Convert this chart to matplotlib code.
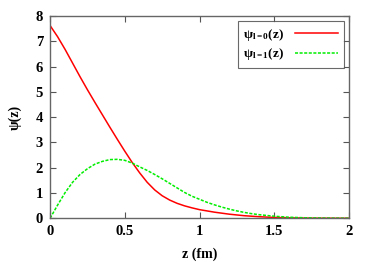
import numpy as np
import matplotlib
matplotlib.use('Agg')
import matplotlib.pyplot as plt

plt.rcParams['font.family'] = ['Liberation Serif', 'DejaVu Serif']
plt.rcParams['font.weight'] = 'bold'
plt.rcParams['mathtext.fontset'] = 'custom'
plt.rcParams['mathtext.rm'] = 'Liberation Serif'
plt.rcParams['mathtext.bf'] = 'Liberation Serif:bold'
plt.rcParams['mathtext.it'] = 'Liberation Serif:italic'

# values
z = [0.00, 0.05, 0.10, 0.15, 0.20, 0.25, 0.30, 0.35, 0.40, 0.45,
     0.50, 0.55, 0.60, 0.65, 0.70, 0.75, 0.80, 0.85, 0.90, 0.95,
     1.00, 1.05, 1.10, 1.15, 1.20, 1.25, 1.30, 1.35, 1.40, 1.45,
     1.50, 1.55, 1.60, 1.65, 1.70, 1.75, 1.80, 1.85, 1.90, 1.95, 2.00]
psi_l0 = [7.62, 7.18, 6.68, 6.14, 5.60, 5.08, 4.58, 4.09, 3.60, 3.12,
          2.65, 2.20, 1.79, 1.42, 1.12, 0.89, 0.72, 0.59, 0.49, 0.41,
          0.34, 0.29, 0.24, 0.20, 0.16, 0.13, 0.10, 0.08, 0.06, 0.045,
          0.033, 0.024, 0.017, 0.012, 0.008, 0.005, 0.003, 0.002, 0.001, 0.0, 0.0]
psi_l1 = [0.00, 0.52, 1.01, 1.42, 1.73, 1.96, 2.14, 2.25, 2.32, 2.33,
          2.29, 2.18, 2.03, 1.89, 1.73, 1.56, 1.38, 1.20, 1.02, 0.87,
          0.75, 0.63, 0.53, 0.44, 0.36, 0.29, 0.23, 0.18, 0.14, 0.11,
          0.08, 0.06, 0.04, 0.03, 0.02, 0.015, 0.01, 0.006, 0.004, 0.002, 0.001]

fig = plt.figure(figsize=(3.74, 2.62), dpi=100)
ax = fig.add_axes([0.134, 0.167, 0.799, 0.772])

ax.plot(z, psi_l0, color='#ff0000', lw=1.1, label=r'$\mathrm{\psi}_{\mathbf{l=0}}$(z)')
ax.plot(z, psi_l1, color='#00ee00', lw=1.1, dashes=(2, 1),
        label=r'$\mathrm{\psi}_{\mathbf{l=1}}$(z)')

ax.set_xlim(0, 2)
ax.set_ylim(0, 8)
ax.set_xticks([0, 0.5, 1, 1.5, 2])
ax.set_xticklabels(['0', '0.5', '1', '1.5', '2'], fontweight='bold')
ax.set_yticks(range(0, 9))
ax.set_yticklabels([str(v) for v in range(0, 9)], fontweight='bold')
ax.tick_params(direction='in', length=4, width=0.8, top=True, right=True,
               labelsize=10.5, color='#555555', pad=5)
for s in ax.spines.values():
    s.set_color('#666666')
    s.set_linewidth(1.0)

ax.set_xlabel('z (fm)', fontsize=10, fontweight='bold', labelpad=7)
ax.set_ylabel('ψ(z)', fontsize=10, fontweight='bold', labelpad=10)

leg = ax.legend(loc='upper right', markerfirst=False, fontsize=9.5,
                frameon=True, fancybox=False, handlelength=3.3,
                borderaxespad=0.4, labelspacing=0.3)
leg.get_frame().set_edgecolor('#444444')
leg.get_frame().set_linewidth(0.8)

fig.savefig('out.png', dpi=100)
